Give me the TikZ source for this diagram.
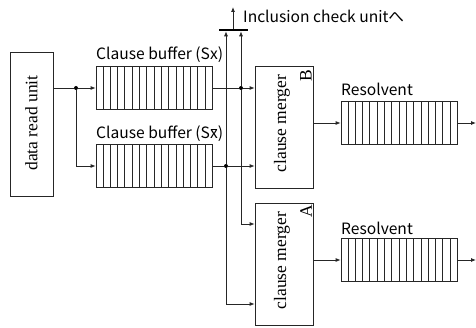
\documentclass[tikz,border=0pt]{standalone}
\usepackage{fontspec}
\setmainfont{Liberation Serif}
\newfontfamily\gothic{Noto Sans CJK JP}
\usetikzlibrary{arrows.meta,calc}
\tikzset{
  wire/.style={draw=black!85, line width=0.8pt},
  flow/.style={wire, -{Latex[length=5pt,width=4pt]}},
  unitbox/.style={draw=black!85, line width=0.8pt, rectangle, inner sep=0pt},
  fifo/.style={unitbox, minimum width=116pt, minimum height=43pt},
  serifrot/.style={rotate=90, font=\fontsize{17.5}{17.5}\selectfont, inner sep=0pt},
  sanslabel/.style={font=\gothic\fontsize{15.6}{15.6}\selectfont, inner sep=0pt, anchor=west},
  joint/.style={circle, fill=black, inner sep=0pt, minimum size=4pt}
}
% x with an overbar, drawn by hand
\newcommand{\negx}{\setbox0=\hbox{x}\rlap{\hbox to \wd0{\hfil\raisebox{0.6em}{\rule{0.8\wd0}{0.06em}}\hfil}}x}
\newcommand{\cells}[1]{%
  \foreach \k in {1,...,15}{
    \draw[line width=0.8pt, draw=black!85] ($(#1.south west)!\k/16!(#1.south east)$) -- ($(#1.north west)!\k/16!(#1.north east)$);
  }}
\begin{document}
\begin{tikzpicture}[x=1pt,y=1pt]
\useasboundingbox (0,0) rectangle (476,327);

% data read unit
\node[unitbox, minimum width=43pt, minimum height=144pt] (reader) at (31.5,203) {};
\node[serifrot] (readertxt) at (31.5,204) {data read unit};

% clause buffers
\node[fifo] (bufx) at (154,239) {};
\cells{bufx}
\node[fifo] (bufxbar) at (154,161) {};
\cells{bufxbar}
\node[sanslabel] (lblx) at (96,272) {Clause buffer (Sx)};
\node[sanslabel] (lblxbar) at (96,193) {Clause buffer (S\negx)};

% clause mergers
\node[unitbox, minimum width=58pt, minimum height=122pt] (mergeB) at (284,200) {};
\node[serifrot] (mergeBtxt) at (282,203.5) {clause merger};
\node[serifrot] (mergeBtag) at (306,251) {B};
\node[unitbox, minimum width=58pt, minimum height=122pt] (mergeA) at (284,63) {};
\node[serifrot] (mergeAtxt) at (282,66.5) {clause merger};
\node[serifrot] (mergeAtag) at (306,116) {A};

% resolvent buffers
\node[fifo] (resB) at (399,204) {};
\cells{resB}
\node[fifo] (resA) at (399,67) {};
\cells{resA}
\node[sanslabel] (lblresB) at (341,238) {Resolvent};
\node[sanslabel] (lblresA) at (341,99) {Resolvent};

% inclusion check output
\coordinate (barL) at (219,297);
\coordinate (barR) at (248,297);
\draw[draw=black, line width=2.6pt] (barL) -- (barR);
\coordinate (barC) at (233,298.3);
\coordinate (chk) at (233,320);
\draw[flow] (barC) -- (chk);
\node[sanslabel] (lblchk) at (243,311) {Inclusion check unit{\gothic へ}};

% junctions
\node[joint] (jin) at (76,239) {};
\node[joint] (jx) at (241,239) {};
\node[joint] (jxbar) at (226,161) {};

% input distribution
\draw[wire] (reader.east |- jin) -- (jin);
\draw[flow] (jin) -- (bufx.west);
\draw[flow] (jin) |- (bufxbar.west);

% buffer outputs to merger B
\draw[wire] (bufx.east) -- (jx);
\draw[flow] (jx) -- (mergeB.west |- jx);
\draw[wire] (bufxbar.east) -- (jxbar);
\draw[flow] (jxbar) -- (mergeB.west |- jxbar);

% branches up to the check bus and down to merger A
\coordinate (upx) at (241,295.7);
\coordinate (upxbar) at (226,295.7);
\draw[flow] (jx) -- (upx);
\draw[flow] (jxbar) -- (upxbar);
\coordinate (dnx) at (241,103);
\coordinate (dnxbar) at (226,23);
\draw[wire] (jx) -- (dnx);
\draw[flow] (dnx) -- (mergeA.west |- dnx);
\draw[wire] (jxbar) -- (dnxbar);
\draw[flow] (dnxbar) -- (mergeA.west |- dnxbar);

% merger outputs
\draw[flow] (mergeB.east |- resB) -- (resB.west);
\draw[flow] (mergeA.east |- resA) -- (resA.west);
\coordinate (outB) at (476,204);
\coordinate (outA) at (476,67);
\draw[flow] (resB.east) -- (outB);
\draw[flow] (resA.east) -- (outA);
\end{tikzpicture}
\end{document}
